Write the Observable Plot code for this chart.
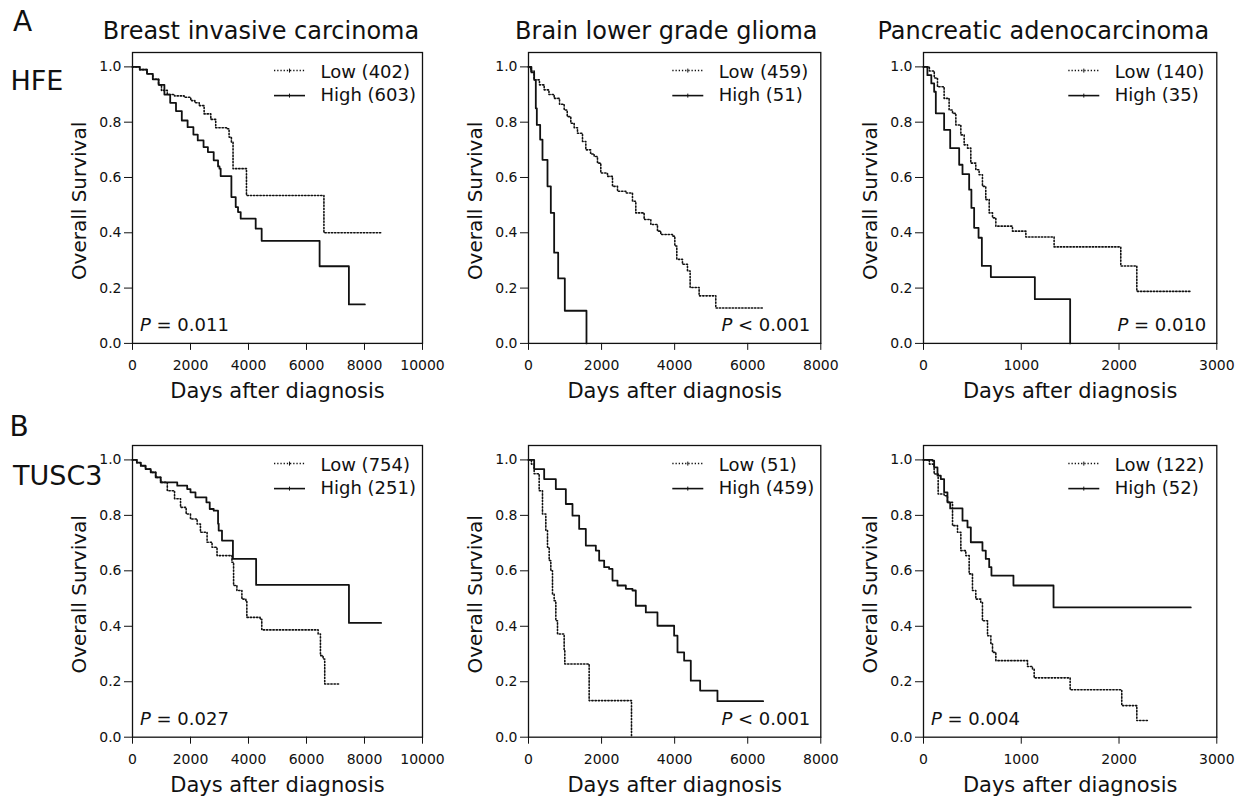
<!DOCTYPE html>
<html><head><meta charset="utf-8">
<script src="https://cdn.jsdelivr.net/npm/d3@7"></script>
<script src="https://cdn.jsdelivr.net/npm/@observablehq/plot@0.6"></script>
<style>
body{margin:0;background:#fff;}
#fig{position:relative;width:1242px;height:802px;font-family:"DejaVu Sans",sans-serif;color:#111;overflow:hidden;background:#fff;}
.t{position:absolute;white-space:nowrap;line-height:1;}
</style></head><body><div id="fig"></div>
<script>
// ---------- text content ----------
const cancerTitles = ["Breast invasive carcinoma", "Brain lower grade glioma", "Pancreatic adenocarcinoma"];
const geneLabels = ["HFE", "TUSC3"];
const panelLetters = ["A", "B"];
const xMaxDays = [10000, 8000, 3000];
const xTickStep = [2000, 2000, 1000];
const yTickValues = [0, 0.2, 0.4, 0.6, 0.8, 1.0];
const lowCounts = [[402, 459, 140], [754, 51, 122]];
const highCounts = [[603, 51, 35], [251, 459, 52]];
const pLabels = [["= 0.011", "< 0.001", "= 0.010"], ["= 0.027", "< 0.001", "= 0.004"]];
const pSide = [["left", "right", "right"], ["left", "right", "left"]];

// ---------- survival curves: [days, survival] step points ----------
const hfeBreastLow = [[0,1],[250,0.99],[500,0.975],[700,0.955],[900,0.935],[1000,0.915],[1200,0.90],[1450,0.895],[1780,0.89],[2010,0.878],[2150,0.87],[2300,0.86],[2470,0.83],[2700,0.81],[2870,0.78],[3250,0.776],[3330,0.746],[3410,0.728],[3467,0.632],[3930,0.535],[6601,0.40],[8587,0.40]];
const hfeBreastHigh = [[0,1],[250,0.99],[500,0.975],[700,0.955],[900,0.935],[1100,0.90],[1300,0.87],[1500,0.84],[1700,0.806],[1900,0.782],[2100,0.755],[2250,0.734],[2450,0.71],[2600,0.692],[2800,0.662],[2950,0.64],[3000,0.632],[3040,0.605],[3410,0.529],[3559,0.493],[3639,0.475],[3731,0.451],[4248,0.415],[4454,0.371],[6452,0.279],[7462,0.141],[8013,0.141]];
const hfeBrainLow = [[0,1],[60,0.985],[155,0.953],[300,0.935],[429,0.917],[560,0.90],[702,0.886],[850,0.865],[976,0.844],[1060,0.82],[1158,0.796],[1250,0.78],[1341,0.76],[1478,0.73],[1569,0.70],[1700,0.685],[1797,0.676],[1888,0.652],[1979,0.616],[2162,0.604],[2299,0.568],[2436,0.55],[2664,0.544],[2846,0.514],[2937,0.472],[3165,0.448],[3348,0.43],[3530,0.406],[3621,0.394],[3941,0.388],[4005,0.352],[4059,0.304],[4214,0.286],[4351,0.262],[4424,0.202],[4670,0.172],[5126,0.128],[6449,0.128]];
const hfeBrainHigh = [[0,1],[80,0.98],[155,0.953],[200,0.85],[228,0.79],[319,0.737],[383,0.664],[520,0.568],[611,0.472],[702,0.328],[812,0.235],[994,0.118],[1587,0]];
const hfePancLow = [[0,1],[60,0.985],[110,0.96],[143,0.928],[211,0.886],[262,0.844],[297,0.832],[331,0.79],[382,0.754],[416,0.718],[450,0.706],[484,0.652],[535,0.628],[569,0.61],[603,0.568],[637,0.52],[672,0.472],[706,0.454],[740,0.424],[910,0.406],[1047,0.385],[1336,0.349],[2018,0.28],[2182,0.188],[2734,0.188]];
const hfePancHigh = [[0,1],[40,0.97],[80,0.94],[109,0.91],[126,0.832],[211,0.772],[273,0.706],[365,0.646],[399,0.612],[467,0.556],[490,0.49],[518,0.418],[563,0.382],[597,0.28],[689,0.24],[1139,0.16],[1500,0]];
const tuscBreastLow = [[0,1],[150,0.99],[286,0.979],[450,0.967],[629,0.955],[800,0.937],[972,0.919],[1200,0.889],[1450,0.86],[1657,0.829],[1850,0.805],[2000,0.787],[2229,0.769],[2343,0.739],[2572,0.703],[2743,0.685],[2915,0.655],[3429,0.631],[3486,0.547],[3600,0.529],[3772,0.498],[3909,0.492],[3943,0.432],[4400,0.425],[4458,0.387],[6401,0.372],[6481,0.294],[6572,0.282],[6629,0.192],[7121,0.192]];
const tuscBreastHigh = [[0,1],[150,0.99],[286,0.979],[450,0.967],[629,0.955],[800,0.937],[972,0.919],[1543,0.907],[1886,0.895],[2000,0.883],[2172,0.865],[2549,0.847],[2663,0.823],[2800,0.817],[2950,0.77],[2972,0.745],[3086,0.709],[3463,0.643],[4263,0.549],[7464,0.412],[8573,0.412]];
const tuscBrainLow = [[0,1],[80,0.985],[155,0.95],[292,0.889],[383,0.805],[474,0.745],[520,0.685],[566,0.637],[611,0.60],[657,0.516],[702,0.492],[748,0.42],[794,0.372],[976,0.312],[994,0.264],[1660,0.132],[2819,0]];
const tuscBrainHigh = [[0,1],[155,0.967],[429,0.931],[748,0.895],[1022,0.841],[1204,0.799],[1387,0.751],[1569,0.691],[1843,0.673],[1934,0.637],[2071,0.613],[2207,0.607],[2299,0.565],[2436,0.547],[2664,0.535],[2846,0.529],[2937,0.474],[3211,0.45],[3530,0.402],[3986,0.366],[4078,0.306],[4260,0.276],[4442,0.204],[4698,0.168],[5172,0.13],[6422,0.13]];
const tuscPancLow = [[0,1],[60,0.985],[109,0.949],[150,0.877],[211,0.871],[245,0.847],[297,0.763],[348,0.739],[382,0.673],[433,0.655],[467,0.589],[501,0.529],[535,0.498],[586,0.486],[603,0.42],[655,0.366],[689,0.336],[706,0.306],[740,0.276],[1064,0.255],[1115,0.246],[1132,0.214],[1500,0.171],[2028,0.114],[2182,0.06],[2291,0.06]];
const tuscPancHigh = [[0,1],[92,0.997],[109,0.973],[143,0.943],[177,0.931],[211,0.883],[245,0.847],[273,0.825],[399,0.781],[450,0.757],[484,0.703],[603,0.673],[637,0.643],[672,0.613],[695,0.583],[920,0.547],[1330,0.468],[2734,0.468]];

const lowSeries = [[hfeBreastLow, hfeBrainLow, hfePancLow], [tuscBreastLow, tuscBrainLow, tuscPancLow]];
const highSeries = [[hfeBreastHigh, hfeBrainHigh, hfePancHigh], [tuscBreastHigh, tuscBrainHigh, tuscPancHigh]];

// ---------- layout ----------
const colLeft = [131.5, 527.7, 922.7];
const colWidth = [290, 292.3, 293.3];
const rowTop = [52.4, 445];
const rowHeight = [290.9, 291.7];
const titleCenter = [260.5, 666, 1043];
const mL = 100, mR = 8, mT = 50, mB = 64;
const ink = "#111";
const fig = document.getElementById("fig");

function addHtmlText(txt, left, baseline, size) {
  const d = document.createElement("div");
  d.className = "t";
  d.textContent = txt;
  d.style.left = left + "px";
  d.style.top = (baseline - 0.846 * size) + "px";
  d.style.fontSize = size + "px";
  fig.appendChild(d);
}
addHtmlText(panelLetters[0], 13, 32, 28);
addHtmlText(panelLetters[1], 9.5, 437, 28);
addHtmlText(geneLabels[0], 10.5, 90, 27);
addHtmlText(geneLabels[1], 13, 485, 27);

for (let r = 0; r < 2; r++) {
  for (let c = 0; c < 3; c++) {
    const w = colWidth[c], h = rowHeight[r];
    const chart = Plot.plot({
      width: mL + w + mR, height: mT + h + mB,
      marginLeft: mL, marginRight: mR, marginTop: mT, marginBottom: mB,
      style: {fontFamily: '"DejaVu Sans", sans-serif', fontSize: "14px", color: ink, background: "transparent", overflow: "visible"},
      x: {domain: [0, xMaxDays[c]], ticks: d3.range(0, xMaxDays[c] + 1, xTickStep[c]), tickFormat: d3.format("d"), tickSize: 7, tickPadding: 9.5, label: null},
      y: {domain: [0, 1.052], ticks: yTickValues, tickFormat: d3.format(".1f"), tickSize: 8, tickPadding: 3, label: null},
      marks: [
        Plot.frame({stroke: ink, strokeWidth: 1.3}),
        Plot.line(lowSeries[r][c], {x: d => d[0], y: d => d[1], curve: "step-after", stroke: ink, strokeWidth: 1.6, strokeDasharray: "1.3,1.9"}),
        Plot.line(highSeries[r][c], {x: d => d[0], y: d => d[1], curve: "step-after", stroke: ink, strokeWidth: 1.8}),
        Plot.text(["Overall Survival"], {text: d => d, frameAnchor: "left", rotate: -90, dx: -46.5, dy: 3, textAnchor: "middle", lineAnchor: "bottom", fontSize: 20, fill: ink}),
        Plot.text(["Days after diagnosis"], {text: d => d, frameAnchor: "bottom", dy: 55, textAnchor: "middle", lineAnchor: "bottom", fontSize: 21, fill: ink})
      ]
    });
    chart.style.position = "absolute";
    chart.style.left = (colLeft[c] - mL) + "px";
    chart.style.top = (rowTop[r] - mT) + "px";
    chart.style.maxWidth = "none";

    const svg = d3.select(chart);
    const fr = mL + w, ft = mT, fb = mT + h;
    const g = svg.append("g").attr("font-family", '"DejaVu Sans", sans-serif').attr("fill", ink).attr("text-anchor", "start");
    // title (row A only)
    if (r === 0) {
      g.append("text").attr("x", titleCenter[c] - (colLeft[c] - mL)).attr("y", ft - 12.9)
        .attr("text-anchor", "middle").attr("font-size", 24).text(cancerTitles[c]);
    }
    // legend
    const legendRows = [
      {label: `Low (${lowCounts[r][c]})`, dash: "1.3,1.9", lineY: ft + 18.6, textY: ft + 25.6},
      {label: `High (${highCounts[r][c]})`, dash: null, lineY: ft + 43.6, textY: ft + 48.6}
    ];
    for (const L of legendRows) {
      const ln = g.append("line").attr("x1", fr - 148).attr("x2", fr - 117).attr("y1", L.lineY).attr("y2", L.lineY)
        .attr("stroke", ink).attr("stroke-width", L.dash ? 1.5 : 1.6);
      if (L.dash) ln.attr("stroke-dasharray", L.dash);
      g.append("line").attr("x1", fr - 132.5).attr("x2", fr - 132.5).attr("y1", L.lineY - 2).attr("y2", L.lineY + 2)
        .attr("stroke", ink).attr("stroke-width", 1);
      g.append("text").attr("x", fr - 101.5).attr("y", L.textY).attr("font-size", 18).attr("text-anchor", "start").text(L.label);
    }
    // P value
    const pt = g.append("text").attr("y", fb - 11.5).attr("font-size", 18);
    if (pSide[r][c] === "left") pt.attr("x", mL + 8).attr("text-anchor", "start");
    else pt.attr("x", fr - 10).attr("text-anchor", "end");
    pt.append("tspan").attr("font-style", "italic").text("P");
    pt.append("tspan").text(" " + pLabels[r][c]);

    fig.appendChild(chart);
  }
}
</script></body></html>
